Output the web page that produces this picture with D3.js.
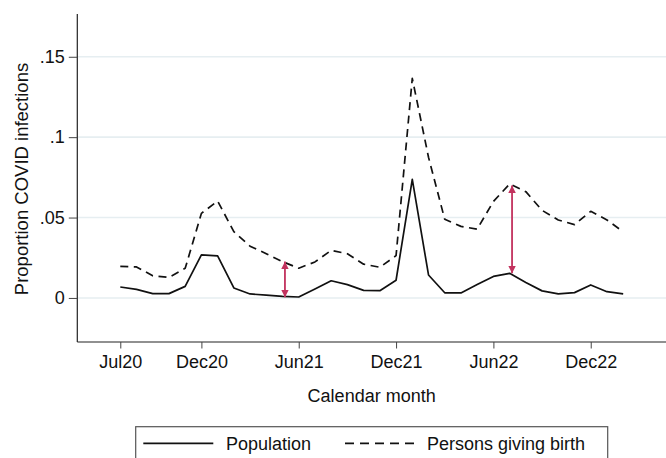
<!DOCTYPE html>
<html>
<head>
<meta charset="utf-8">
<script src="https://cdn.jsdelivr.net/npm/d3@7"></script>
<style>
  html, body { margin: 0; padding: 0; background: #fff; }
  svg { display: block; font-family: "Liberation Sans", Arial, Helvetica, sans-serif; }
</style>
</head>
<body>
<svg id="chart" width="666" height="458"></svg>
<script>
// Monthly index: 0 = Jul 2020 ... 31 = Feb 2023
const months = d3.range(32);

// Proportion of COVID infections, whole population
const population = [0.0068, 0.0053, 0.0027, 0.0027, 0.0072, 0.0268, 0.0262, 0.0062,
  0.0025, 0.0017, 0.0010, 0.0006, 0.0056, 0.0107, 0.0083, 0.0047,
  0.0045, 0.0110, 0.0738, 0.0143, 0.0032, 0.0031, 0.0083, 0.0134,
  0.0153, 0.0096, 0.0044, 0.0025, 0.0033, 0.0081, 0.0039, 0.0025];

// Proportion of COVID infections, persons giving birth
const births = [0.0196, 0.0193, 0.0138, 0.0128, 0.0184, 0.0526, 0.0603, 0.0412,
  0.0322, 0.0275, 0.0226, 0.0185, 0.0224, 0.0296, 0.0275, 0.0210,
  0.0191, 0.0263, 0.1366, 0.0875, 0.0489, 0.0445, 0.0428, 0.0600,
  0.0709, 0.0661, 0.0545, 0.0485, 0.0456, 0.0539, 0.0485, 0.0412];

// Gap markers: [month position, lower value, upper value]
const gapArrows = [[10.15, 0.0004, 0.0226], [24.15, 0.0153, 0.0700]];

const xTickMonths = [0, 5, 11, 17, 23, 29];
const xTickLabels = ["Jul20", "Dec20", "Jun21", "Dec21", "Jun22", "Dec22"];
const yTicks = [0, 0.05, 0.1, 0.15];
const yTickLabels = ["0", ".05", ".1", ".15"];

const seriesNames = ["Population", "Persons giving birth"];

const svg = d3.select("#chart");
const plotL = 77.3, plotR = 666, plotT = 14, plotB = 342;

const x = d3.scaleLinear().domain([-2.65, 33.64]).range([plotL, plotR]);
const y = d3.scaleLinear().domain([-0.0274, 0.1766]).range([plotB, plotT]);

const fs = 18;
const dash = "8,5.5";

// horizontal gridlines
svg.append("g")
  .selectAll("line")
  .data(yTicks)
  .join("line")
  .attr("x1", plotL).attr("x2", plotR)
  .attr("y1", d => y(d)).attr("y2", d => y(d))
  .attr("stroke", "#e6eef1").attr("stroke-width", 1.6);

// y axis
const yAxis = d3.axisLeft(y)
  .tickValues(yTicks)
  .tickFormat((d, i) => yTickLabels[i])
  .tickSizeOuter(0)
  .tickSize(8.5)
  .tickPadding(4);
const gy = svg.append("g").attr("transform", `translate(${plotL},0)`).call(yAxis);
gy.select(".domain").attr("d", `M0,${plotT}V${plotB}`).attr("stroke", "#222").attr("stroke-width", 1.2);
gy.selectAll(".tick line").attr("stroke", "#444").attr("stroke-width", 1);
gy.selectAll(".tick text").attr("font-size", fs).attr("fill", "#111").attr("font-family", null);

// x axis
const xAxis = d3.axisBottom(x)
  .tickValues(xTickMonths)
  .tickFormat((d, i) => xTickLabels[i])
  .tickSizeOuter(0)
  .tickSize(6.5)
  .tickPadding(6.5);
const gx = svg.append("g").attr("transform", `translate(0,${plotB})`).call(xAxis);
gx.select(".domain").attr("d", `M${plotL},0H${plotR}`).attr("stroke", "#222").attr("stroke-width", 1.2);
gx.selectAll(".tick line").attr("stroke", "#444").attr("stroke-width", 1);
gx.selectAll(".tick text").attr("font-size", fs).attr("fill", "#111").attr("font-family", null);

// axis titles
svg.append("text")
  .attr("x", (plotL + plotR) / 2).attr("y", 402)
  .attr("text-anchor", "middle").attr("font-size", fs).attr("fill", "#111")
  .text("Calendar month");
svg.append("text")
  .attr("transform", `translate(28,${(plotT + plotB) / 2 + 1}) rotate(-90)`)
  .attr("text-anchor", "middle").attr("font-size", 18.5).attr("fill", "#111")
  .text("Proportion COVID infections");

// series lines
const line = vals => d3.line().x((d, i) => x(months[i])).y(d => y(d))(vals);
svg.append("path").attr("d", line(births))
  .attr("fill", "none").attr("stroke", "#111").attr("stroke-width", 1.7)
  .attr("stroke-dasharray", dash).attr("stroke-linejoin", "round");
svg.append("path").attr("d", line(population))
  .attr("fill", "none").attr("stroke", "#111").attr("stroke-width", 1.7)
  .attr("stroke-linejoin", "round");

// double-headed gap arrows
const red = "#c2325e";
const defs = svg.append("defs");
defs.append("marker")
  .attr("id", "ah").attr("viewBox", "0 0 10 10")
  .attr("refX", 10).attr("refY", 5)
  .attr("markerWidth", 4.2).attr("markerHeight", 4.2)
  .attr("markerUnits", "strokeWidth")
  .attr("orient", "auto-start-reverse")
  .append("path").attr("d", "M0,0L10,5L0,10Z").attr("fill", red);

svg.append("g")
  .selectAll("line")
  .data(gapArrows)
  .join("line")
  .attr("x1", d => x(d[0])).attr("x2", d => x(d[0]))
  .attr("y1", d => y(d[1])).attr("y2", d => y(d[2]))
  .attr("stroke", red).attr("stroke-width", 1.8)
  .attr("marker-start", "url(#ah)").attr("marker-end", "url(#ah)");

// legend
const lg = svg.append("g");
lg.append("rect")
  .attr("x", 135.7).attr("y", 426.7).attr("width", 472).attr("height", 60)
  .attr("fill", "#fff").attr("stroke", "#555").attr("stroke-width", 1.2);
const ly = 443.3;
const legendItems = [
  { x0: 143.3, x1: 213.3, tx: 226, dash: null },
  { x0: 345, x1: 414, tx: 427, dash: "9,6" }
];
legendItems.forEach((it, i) => {
  lg.append("line")
    .attr("x1", it.x0).attr("x2", it.x1).attr("y1", ly).attr("y2", ly)
    .attr("stroke", "#111").attr("stroke-width", 1.7)
    .attr("stroke-dasharray", it.dash);
  lg.append("text")
    .attr("x", it.tx).attr("y", ly).attr("dy", "0.35em")
    .attr("font-size", fs).attr("fill", "#111")
    .text(seriesNames[i]);
});
</script>
</body>
</html>
